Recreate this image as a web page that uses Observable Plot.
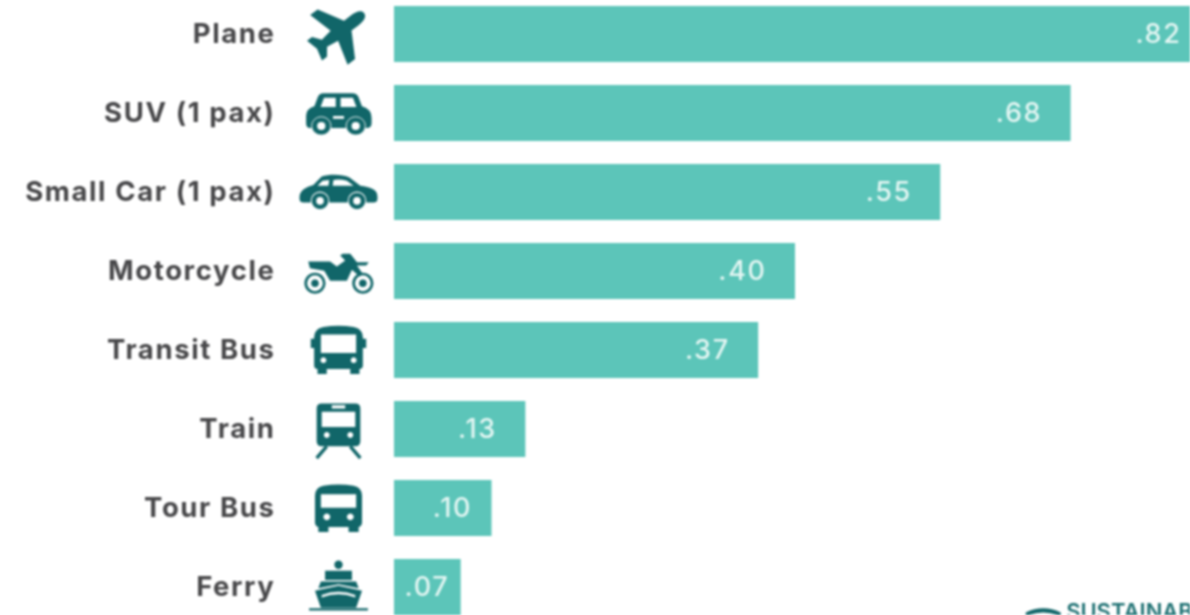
<!DOCTYPE html>
<html>
<head>
<meta charset="utf-8">
<script src="https://cdn.jsdelivr.net/npm/d3@7"></script>
<script src="https://cdn.jsdelivr.net/npm/@observablehq/plot@0.6"></script>
<style>
html,body{margin:0;padding:0;background:#fff;overflow:hidden;width:1190px;height:615px}
svg{display:block;filter:blur(.8px);overflow:hidden}
g[font-size="22"]{letter-spacing:0}
</style>
</head>
<body>
<div id="chart"></div>
<script>
const modes = ["Plane","SUV (1 pax)","Small Car (1 pax)","Motorcycle","Transit Bus","Train","Tour Bus","Ferry"];
const values = [0.82,0.68,0.549,0.403,0.366,0.132,0.098,0.067];
const valueLabels = [".82",".68",".55",".40",".37",".13",".10",".07"];
const brand = "SUSTAINABLE";

const ink = "#116669";
const wheel = (cx,cy,r,hole) => `<circle cx="${cx}" cy="${cy}" r="${r}" fill="${ink}" stroke="#fff" stroke-width="1.3"/><circle cx="${cx}" cy="${cy}" r="${hole}" fill="#fff"/>`;
const uri = body => "data:image/svg+xml;charset=utf-8," + encodeURIComponent(
  `<svg xmlns="http://www.w3.org/2000/svg" viewBox="0 0 100 100"><g fill="${ink}" fill-rule="evenodd">${body}</g></svg>`);

const icons = {
  "Plane": uri(`<path transform="translate(51 47) rotate(53) scale(.74) translate(-50 -50)" d="M50 0C57 0 60 8 60 20V33L100 56V71L60 60L57 80L70 90V100L50 95L30 100V90L43 80L40 60L0 71V56L40 33V20C40 8 43 0 50 0Z"/>`),
  "SUV (1 pax)": uri(`<g transform="translate(50 50) scale(.82 .78) translate(-50 -53)"><path d="M28 22H70Q77 22 79 28L84 42Q98 46 98 60V68Q98 75 92 75H8Q3 75 3 68V56Q3 46 15 42L20 28Q22 22 28 22ZM29 29 24 43H46V29ZM53 29V43H76L71 29ZM42 57V61H58V57Z"/>${wheel(25,72,14,6)}${wheel(75,72,14,6)}</g>`),
  "Small Car (1 pax)": uri(`<path d="M30 31C38 28 55 28 63 32L76 42Q94 44 96 52Q98 62 92 62H8Q2 62 4 52Q6 45 20 41ZM31 36 25 42H38L39 35ZM44 35 43 42H68L60 36Q52 34 44 35Z"/>${wheel(28,60,10.5,4.5)}${wheel(72,60,10.5,4.5)}`),
  "Motorcycle": uri(`<path d="M14 38H40L48 44L58 37L52 31 55 29H64L72 39H86L83 43H72L79 53 75 56 66 48 60 61H40L33 49 16 46Z"/><circle cx="22" cy="64" r="11" fill="none" stroke="${ink}" stroke-width="3.2"/><circle cx="22" cy="64" r="4.5"/><circle cx="79" cy="64" r="11" fill="none" stroke="${ink}" stroke-width="3.2"/><circle cx="79" cy="64" r="4.5"/>`),
  "Transit Bus": uri(`<path d="M32 22Q50 19 68 22Q79 24 79 34V36H83V47H79V68Q79 72 75 72V78H64V72H36V78H25V72Q21 72 21 68V47H17V36H21V34Q21 24 32 22ZM29 31V53H71V31ZM32 58A3.5 3.5 0 1 0 32.1 58ZM68 58A3.5 3.5 0 1 0 68.1 58Z"/>`),
  "Train": uri(`<path d="M30 19H70Q76 19 76 25V64Q76 70 70 70H30Q24 70 24 64V25Q24 19 30 19ZM30 29V47H70V29ZM42 21V25H58V21ZM36 53A3.5 3.5 0 1 0 36.1 53ZM64 53A3.5 3.5 0 1 0 64.1 53Z"/><path d="M36 70 24 84M64 70 76 84" fill="none" stroke="${ink}" stroke-width="4"/>`),
  "Tour Bus": uri(`<path d="M32 23Q50 20 68 23Q78 25 78 35V66Q78 71 74 72V78H62V72H38V78H26V72Q22 71 22 66V35Q22 25 32 23ZM29 33V49H71V33ZM36 56A4 4 0 1 0 36.1 56ZM64 56A4 4 0 1 0 64.1 56Z"/>`),
  "Ferry": uri(`<circle cx="50" cy="23" r="5"/><path d="M34 30H66V41H34ZM29 43H71L74 51 50 46 26 51ZM22 54 50 48 78 54 71 74H29ZM30 62Q50 54 70 62L70 59Q50 51 30 59Z"/><path d="M15 76H85" stroke="${ink}" stroke-width="2.5"/>`)
};
const logo = uri(`<path d="M4 42Q50 20 96 42V52Q50 32 4 52ZM16 62Q50 44 84 62V74H72Q50 58 28 74H16Z"/>`);

const rows = modes.map((mode,i) => ({mode, value: values[i], label: valueLabels[i], icon: icons[mode]}));
const wide = rows.filter(d => d.value >= 0.13);
const font = "Inter, 'Open Sans', sans-serif";
const labelStyle = {y:"mode", text:"label", fill:"#e4f6f3", fontSize:27, fontFamily:font, fontWeight:500, textAnchor:"end"};

const chart = Plot.plot({
  width:1190,
  height:615,
  marginLeft:394,
  marginRight:0,
  marginTop:6,
  marginBottom:0,
  style:{background:"#fff",overflow:"hidden",letterSpacing:"1.6px"},
  x:{axis:null,domain:[0,0.8],range:[394,1190]},
  y:{axis:null,domain:modes,range:[6,616],paddingInner:0.29,paddingOuter:0,align:0.5},
  marks:[
    Plot.barX(rows,{x:"value",y:"mode",fill:"#5cc5b9"}),
    Plot.axisY({anchor:"left",tickSize:0,tickPadding:119,label:null,fontSize:27.5,fontWeight:700,fontFamily:font,fill:"#48484a"}),
    Plot.image(rows,{x:()=>0,y:"mode",src:"icon",width:84,height:84,dx:-56}),
    Plot.text(wide,{...labelStyle,x:"value",dx:-29}),
    Plot.text(rows.filter(d=>d.mode==="Tour Bus"),{...labelStyle,x:"value",dx:-20}),
    Plot.text(rows.filter(d=>d.mode==="Ferry"),{...labelStyle,x:"value",dx:-12}),
    Plot.image(["Ferry"],{x:()=>0.652,y:d=>d,src:()=>logo,width:38,height:38,dy:28}),
    Plot.text(["Ferry"],{x:()=>0.675,y:d=>d,text:()=>brand,dy:24,textAnchor:"start",fontSize:22,fontWeight:600,fontFamily:font,fill:"#1f7173"})
  ]
});
document.getElementById("chart").appendChild(chart);
</script>
</body>
</html>
